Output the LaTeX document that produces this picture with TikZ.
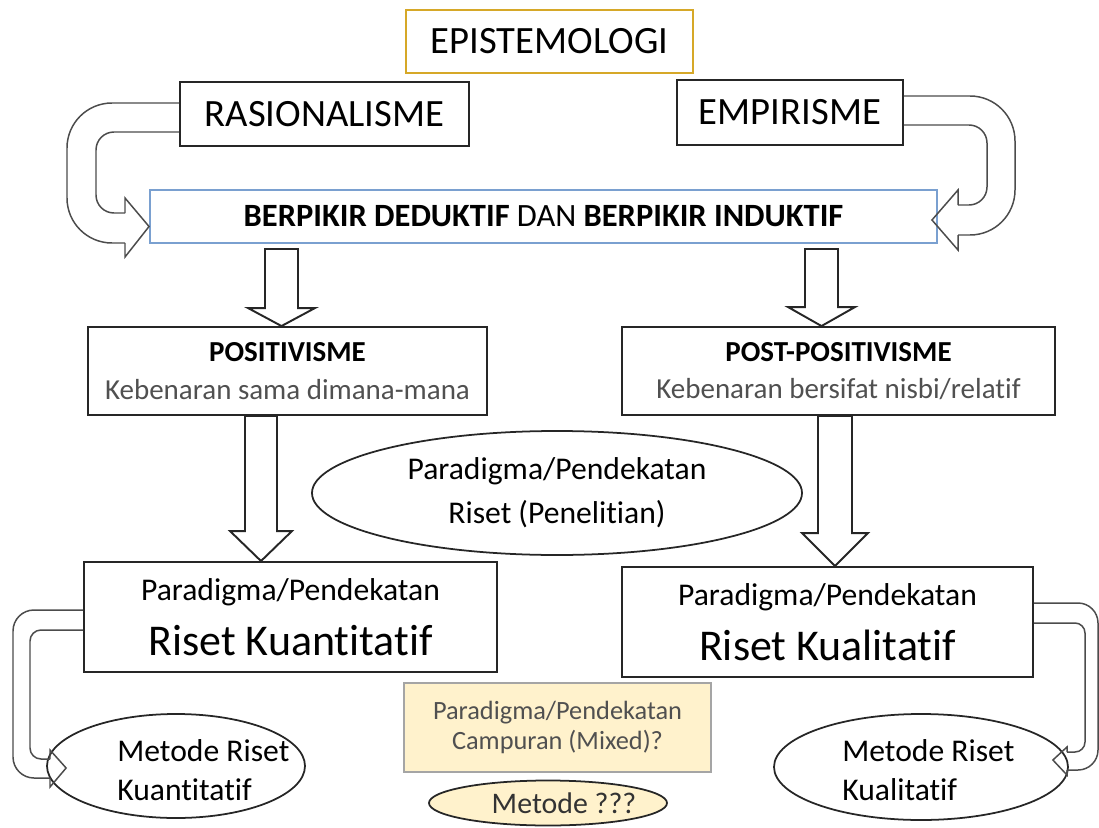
\documentclass[tikz,border=0pt]{standalone}
\usepackage{fontspec}
\setmainfont{Carlito}[Ligatures=NoCommon]
\usetikzlibrary{calc,shapes.geometric}
\definecolor{goldline}{RGB}{214,168,40}
\definecolor{blueline}{RGB}{122,160,208}
\definecolor{mixfill}{RGB}{255,242,204}
\definecolor{mixline}{RGB}{165,165,165}
\definecolor{greytext}{RGB}{80,80,80}
\newcommand{\pxu}{0.02cm}
% block arrow: x, from node, to node, gap, shaft half, head half, head length
\newcommand{\bigdown}[7]{%
  \draw[blockarrow] ($(#2.south -| #1,0)+(-#5,#4)$) -- ($(#3.north -| #1,0)+(-#5,-#7)$)
    -- ($(#3.north -| #1,0)+(-#6,-#7)$) -- (#3.north -| #1,0) -- ($(#3.north -| #1,0)+(#6,-#7)$)
    -- ($(#3.north -| #1,0)+(#5,-#7)$) -- ($(#2.south -| #1,0)+(#5,#4)$) -- cycle;}
\tikzset{
  box/.style={draw=black!85, line width=1.1pt, inner sep=0pt, align=center},
  oval/.style={ellipse, draw=black!85, line width=1pt, inner sep=0pt, align=center},
  uline/.style={draw=black!70, line width=0.85pt, line join=miter},
  blockarrow/.style={draw=black!85, line width=1.1pt, fill=white, line join=miter},
  txt/.style={inner sep=0pt, align=left, font=\fontsize{18}{22}\selectfont},
}
\begin{document}
\begin{tikzpicture}[x=0.02cm, y=-0.02cm]
\useasboundingbox (0,0) rectangle (1099,828);

% top
\node[box, draw=goldline, minimum width=287*\pxu, minimum height=63*\pxu, font=\fontsize{22}{26}\selectfont] (epi) at (549.5,41.5) {EPISTEMOLOGI};
\node[box, minimum width=289*\pxu, minimum height=64*\pxu, font=\fontsize{22}{26}\selectfont] (rasio) at (324.5,114) {RASIONALISME};
\node[box, minimum width=226*\pxu, minimum height=65*\pxu, font=\fontsize{22}{26}\selectfont] (empi) at (790,112.5) {EMPIRISME};
\node[box, draw=blueline, minimum width=787*\pxu, minimum height=53*\pxu, font=\fontsize{18.5}{22}\selectfont] (berpikir) at (543.5,216.5) {\textbf{BERPIKIR DEDUKTIF} DAN \textbf{BERPIKIR INDUKTIF}};

% paradigma
\node[box, minimum width=399*\pxu, minimum height=88*\pxu, font=\fontsize{16.5}{21.5}\selectfont] (posit) at (287.5,371) {\textbf{POSITIVISME}\\\textcolor{greytext}{Kebenaran sama dimana-mana}};
\node[box, minimum width=433*\pxu, minimum height=88*\pxu, font=\fontsize{16.5}{21.5}\selectfont] (postp) at (838.5,371) {\textbf{POST-POSITIVISME}\\\textcolor{greytext}{Kebenaran bersifat nisbi/relatif}};
\node[oval, minimum width=490*\pxu, minimum height=124*\pxu, font=\fontsize{18}{25}\selectfont] (riset) at (557,493) {Paradigma/Pendekatan\\Riset (Penelitian)};
\node[box, minimum width=413*\pxu, minimum height=110*\pxu, font=\fontsize{18}{22}\selectfont] (kuan) at (290.5,617) {Paradigma/Pendekatan\\[9pt]{\fontsize{25}{30}\selectfont Riset Kuantitatif}};
\node[box, minimum width=411*\pxu, minimum height=110*\pxu, font=\fontsize{18}{22}\selectfont] (kual) at (827.5,622) {Paradigma/Pendekatan\\[9pt]{\fontsize{25}{30}\selectfont Riset Kualitatif}};

% metode
\node[oval, minimum width=258*\pxu, minimum height=104*\pxu] (metkuan) at (176,766) {};
\node[txt, anchor=west] (metkuantxt) at (117,770) {Metode Riset\\Kuantitatif};
\node[oval, minimum width=294*\pxu, minimum height=106*\pxu] (metkual) at (921,767) {};
\node[txt, anchor=west] (metkualtxt) at (842,770) {Metode Riset\\Kualitatif};
\node[box, draw=mixline, line width=1pt, fill=mixfill, text=greytext, minimum width=307*\pxu, minimum height=89*\pxu, font=\fontsize{15}{17}\selectfont] (mixed) at (557.5,727.5) {Paradigma/Pendekatan\\Campuran (Mixed)?};
\node[oval, fill=mixfill, minimum width=238*\pxu, minimum height=45*\pxu] (metode) at (548,803) {};
\node[txt, text=black!80, font=\fontsize{17}{20}\selectfont] (metodetxt) at (564,803) {Metode ???};

% block arrows
\bigdown{281.5}{berpikir}{posit}{5}{16.5}{33.5}{18}
\bigdown{821.5}{berpikir}{postp}{5}{16.5}{33.5}{19}
\bigdown{261}{posit}{kuan}{0}{16}{31}{30}
\bigdown{835}{postp}{kual}{0}{17}{33}{33}

% u-turn arrows
\draw[uline, rounded corners=0.9cm] ($(rasio.west)+(0,-11)$) -- (67,103) -- (67,243) -- (125,243);
\draw[uline] (125,243) -- (125,257) -- ($(berpikir.west)+(0,10)$) -- (125,198) -- (125,213);
\draw[uline, rounded corners=0.36cm] (125,213) -- (96,213) -- (96,132) -- ($(rasio.west)+(0,18)$);

\draw[uline, rounded corners=0.9cm] ($(empi.east)+(0,-16.5)$) -- (1015,96) -- (1015,235) -- (958,235);
\draw[uline] (958,235) -- (958,250) -- ($(berpikir.east)+(-6,3.5)$) -- (958,190) -- (958,205);
\draw[uline, rounded corners=0.36cm] (958,205) -- (987,205) -- (987,125) -- ($(empi.east)+(0,12.5)$);

\draw[uline, rounded corners=0.42cm] ($(kuan.west)+(0,-7)$) -- (13,610) -- (13,778) -- (50,778);
\draw[uline] (50,778) -- (50,787) -- ($(metkuan.west)+(20,2)$) -- (50,750) -- (50,759);
\draw[uline, rounded corners=0.22cm] (50,759) -- (30,759) -- (30,630) -- ($(kuan.west)+(0,13)$);

\draw[uline, rounded corners=0.4cm] ($(kual.east)+(0,-19)$) -- (1098,603) -- (1098,770) -- (1067,770);
\draw[uline] (1067,770) -- (1067,775) -- ($(metkual.east)+(-16,-7)$) -- (1067,747) -- (1067,752);
\draw[uline, rounded corners=0.2cm] (1067,752) -- (1085,752) -- (1085,623) -- ($(kual.east)+(0,1)$);
\end{tikzpicture}
\end{document}
